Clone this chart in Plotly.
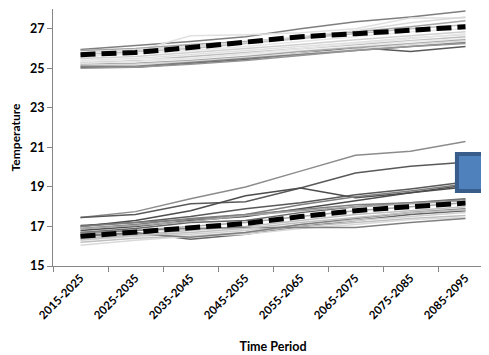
import plotly.graph_objects as go

periods = ["2015-2025", "2025-2035", "2035-2045", "2045-2055",
           "2055-2065", "2065-2075", "2075-2085", "2085-2095"]

# Upper group of model runs
upper_runs = [
    [25.05, 25.05, 25.25, 25.45, 25.75, 26.05, 25.85, 26.10],
    [25.95, 26.15, 26.35, 26.60, 27.00, 27.35, 27.60, 27.90],
    [25.55, 25.85, 26.65, 26.70, 26.80, 27.00, 27.55, 27.55],
    [25.90, 26.00, 26.20, 26.35, 26.55, 26.85, 27.10, 27.40],
    [25.80, 25.95, 26.10, 26.30, 26.60, 26.90, 27.30, 27.60],
    [25.70, 25.85, 26.00, 26.25, 26.50, 26.75, 27.00, 27.20],
    [25.60, 25.75, 25.90, 26.10, 26.35, 26.60, 26.85, 27.00],
    [25.50, 25.60, 25.80, 26.00, 26.20, 26.45, 26.65, 26.85],
    [25.40, 25.50, 25.70, 25.90, 26.10, 26.30, 26.55, 26.70],
    [25.30, 25.40, 25.60, 25.80, 26.00, 26.20, 26.40, 26.60],
    [25.35, 25.45, 25.50, 25.70, 25.90, 26.10, 26.35, 26.50],
    [25.20, 25.25, 25.40, 25.60, 25.85, 26.05, 26.25, 26.45],
    [25.15, 25.20, 25.35, 25.55, 25.75, 25.95, 26.20, 26.40],
    [25.10, 25.10, 25.30, 25.50, 25.70, 25.90, 26.10, 26.30],
    [25.25, 25.35, 25.50, 25.75, 26.00, 26.25, 26.50, 26.75],
    [25.00, 25.05, 25.20, 25.40, 25.65, 25.90, 26.10, 26.25],
]
upper_colors = ["#595959", "#7F7F7F", "#E0E0E0", "#A6A6A6", "#D9D9D9", "#BFBFBF",
                "#E6E6E6", "#D0D0D0", "#E0E0E0", "#BFBFBF", "#EBEBEB", "#A6A6A6",
                "#D9D9D9", "#808080", "#E6E6E6", "#959595"]
upper_mean = [25.69, 25.80, 26.05, 26.30, 26.60, 26.75, 26.95, 27.10]

# Lower group of model runs
lower_runs = [
    [17.45, 17.75, 18.40, 19.00, 19.80, 20.60, 20.80, 21.30],
    [17.45, 17.60, 18.15, 18.25, 18.95, 19.70, 20.05, 20.25],
    [17.00, 17.30, 17.80, 18.55, 18.95, 18.45, 18.70, 19.10],
    [17.05, 17.20, 17.50, 17.90, 18.20, 18.60, 18.90, 19.25],
    [16.90, 17.10, 17.40, 17.60, 18.10, 18.50, 18.80, 19.15],
    [16.80, 17.00, 17.30, 17.50, 17.90, 18.30, 18.70, 19.00],
    [16.70, 16.90, 17.20, 17.30, 17.70, 18.00, 18.20, 18.40],
    [17.00, 17.20, 17.35, 17.60, 17.85, 18.10, 18.20, 18.35],
    [16.60, 16.80, 17.00, 17.20, 17.50, 17.80, 18.00, 18.20],
    [16.40, 16.60, 16.80, 17.00, 17.30, 17.60, 17.80, 18.00],
    [16.50, 16.70, 16.35, 16.60, 17.00, 17.30, 17.60, 17.80],
    [16.30, 16.50, 16.60, 16.80, 17.10, 17.30, 17.50, 17.70],
    [16.20, 16.40, 16.50, 16.70, 17.00, 17.20, 17.40, 17.55],
    [16.05, 16.30, 16.50, 16.60, 16.90, 17.10, 17.35, 17.45],
    [16.70, 16.80, 16.90, 16.95, 16.95, 16.95, 17.20, 17.40],
    [16.90, 17.05, 17.25, 17.55, 17.80, 18.00, 18.15, 18.30],
    [16.55, 16.65, 16.45, 16.70, 17.10, 17.40, 17.70, 17.90],
    [16.35, 16.55, 16.70, 16.90, 17.20, 17.45, 17.70, 17.85],
]
lower_colors = ["#8C8C8C", "#595959", "#4D4D4D", "#595959", "#7F7F7F", "#4D4D4D",
                "#666666", "#808080", "#A6A6A6", "#BFBFBF", "#666666", "#D0D0D0",
                "#BFBFBF", "#D9D9D9", "#808080", "#A6A6A6", "#7F7F7F", "#C0C0C0"]
lower_mean = [16.50, 16.70, 16.90, 17.15, 17.50, 17.80, 18.00, 18.18]

y_ticks = [15, 17, 19, 21, 23, 25, 27]

fig = go.Figure()
for runs, colors in ((upper_runs, upper_colors), (lower_runs, lower_colors)):
    for vals, c in zip(runs, colors):
        fig.add_trace(go.Scatter(x=periods, y=vals, mode="lines",
                                 line=dict(color=c, width=1.5), showlegend=False,
                                 hoverinfo="skip"))
for m in (upper_mean, lower_mean):
    fig.add_trace(go.Scatter(x=periods, y=m, mode="lines",
                             line=dict(color="black", width=5, dash="15px,6px"),
                             showlegend=False))

font_family = "Lato, Calibri, Arial, sans-serif"
fig.update_layout(
    width=489, height=347,
    margin=dict(l=45, r=4, t=1, b=89),
    plot_bgcolor="white", paper_bgcolor="white",
    font=dict(family=font_family, color="black"),
    xaxis=dict(
        type="category", range=[-0.5, 7.5], automargin=False,
        tickson="boundaries", ticks="outside", ticklen=5, tickcolor="#868686",
        showline=True, linecolor="#868686", linewidth=1, showgrid=False,
        tickangle=-45, tickfont=dict(size=11.5, family=font_family, weight="bold"),
        title=dict(text="<b>Time Period</b>", font=dict(size=12.5), standoff=21),
    ),
    yaxis=dict(
        range=[15, 28], tickvals=y_ticks, ticks="outside", ticklen=5,
        automargin=False,
        tickcolor="#868686", showline=True, linecolor="#868686", linewidth=1,
        showgrid=False, zeroline=False,
        tickfont=dict(size=12.5, family=font_family, weight="bold"),
        title=dict(text="<b>Temperature</b>", font=dict(size=12), standoff=8),
    ),
    shapes=[dict(type="rect", xref="paper", yref="paper",
                 x0=0.918, x1=1.1, y0=0.292, y1=0.436,
                 fillcolor="#4F81BD", line=dict(color="#385D8A", width=4))],
)

fig.write_html("out.html")
